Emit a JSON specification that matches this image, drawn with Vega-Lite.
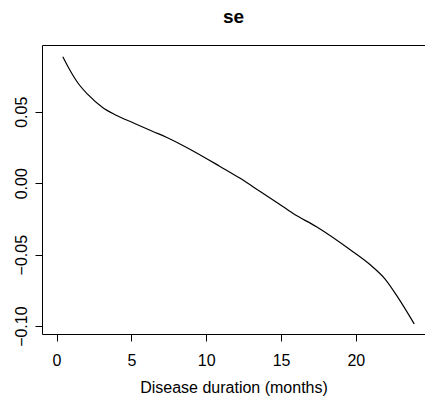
{
  "$schema": "https://vega.github.io/schema/vega-lite/v6.json",
  "autosize": {"type": "none"},
  "padding": {"left": 42, "top": 45, "right": 0, "bottom": 68},
  "width": 383,
  "height": 289,
  "title": {"text": "se", "font": "Liberation Sans", "fontSize": 19, "fontWeight": "bold", "color": "black", "anchor": "middle", "baseline": "alphabetic", "offset": 3},
  "data": {"values": [
    {"t": 0.42, "se": 0.0885},
    {"t": 0.87, "se": 0.0796},
    {"t": 1.42, "se": 0.0703},
    {"t": 2.09, "se": 0.0621},
    {"t": 3.10, "se": 0.0528},
    {"t": 3.88, "se": 0.0481},
    {"t": 5.22, "se": 0.0418},
    {"t": 6.44, "se": 0.0362},
    {"t": 7.34, "se": 0.0322},
    {"t": 9.12, "se": 0.0226},
    {"t": 10.90, "se": 0.0119},
    {"t": 12.24, "se": 0.0036},
    {"t": 13.58, "se": -0.0056},
    {"t": 14.80, "se": -0.0140},
    {"t": 15.81, "se": -0.0212},
    {"t": 17.37, "se": -0.0305},
    {"t": 19.60, "se": -0.0464},
    {"t": 20.94, "se": -0.0569},
    {"t": 21.94, "se": -0.0669},
    {"t": 22.83, "se": -0.0802},
    {"t": 23.90, "se": -0.0984}
  ]},
  "resolve": {"axis": {"x": "independent"}},
  "layer": [
    {
      "mark": {"type": "line", "color": "black", "strokeWidth": 1.2, "interpolate": "monotone"},
      "encoding": {
        "x": {"field": "t", "type": "quantitative", "scale": {"domain": [-0.97, 24.62], "nice": false, "zero": false},
          "axis": {"orient": "bottom", "title": "Disease duration (months)", "values": [0, 5, 10, 15, 20], "format": "d", "grid": false,
            "domainColor": "black", "domainWidth": 1, "tickColor": "black", "tickSize": 7, "tickWidth": 1,
            "labelFont": "Liberation Sans", "labelFontSize": 16, "labelColor": "black", "labelBaseline": "alphabetic", "labelPadding": 24,
            "titleFont": "Liberation Sans", "titleFontSize": 16, "titleFontWeight": "normal", "titleColor": "black", "titleBaseline": "alphabetic", "titleY": 58}},
        "y": {"field": "se", "type": "quantitative", "scale": {"domain": [-0.1055, 0.0967], "nice": false, "zero": false},
          "axis": {"title": null, "values": [-0.1, -0.05, 0, 0.05], "format": ".2f", "grid": false,
            "domainColor": "black", "domainWidth": 1, "tickColor": "black", "tickSize": 7, "tickWidth": 1,
            "labelFont": "Liberation Sans", "labelFontSize": 16, "labelColor": "black", "labelAngle": -90, "labelAlign": "center", "labelBaseline": "alphabetic", "labelPadding": 8.5}}
      }
    },
    {
      "mark": {"type": "point", "opacity": 0},
      "encoding": {
        "x": {"field": "t", "type": "quantitative", "axis": {"orient": "top", "title": null, "labels": false, "ticks": false, "grid": false, "domainColor": "black", "domainWidth": 1}}
      }
    }
  ],
  "config": {"view": {"stroke": null}}
}
